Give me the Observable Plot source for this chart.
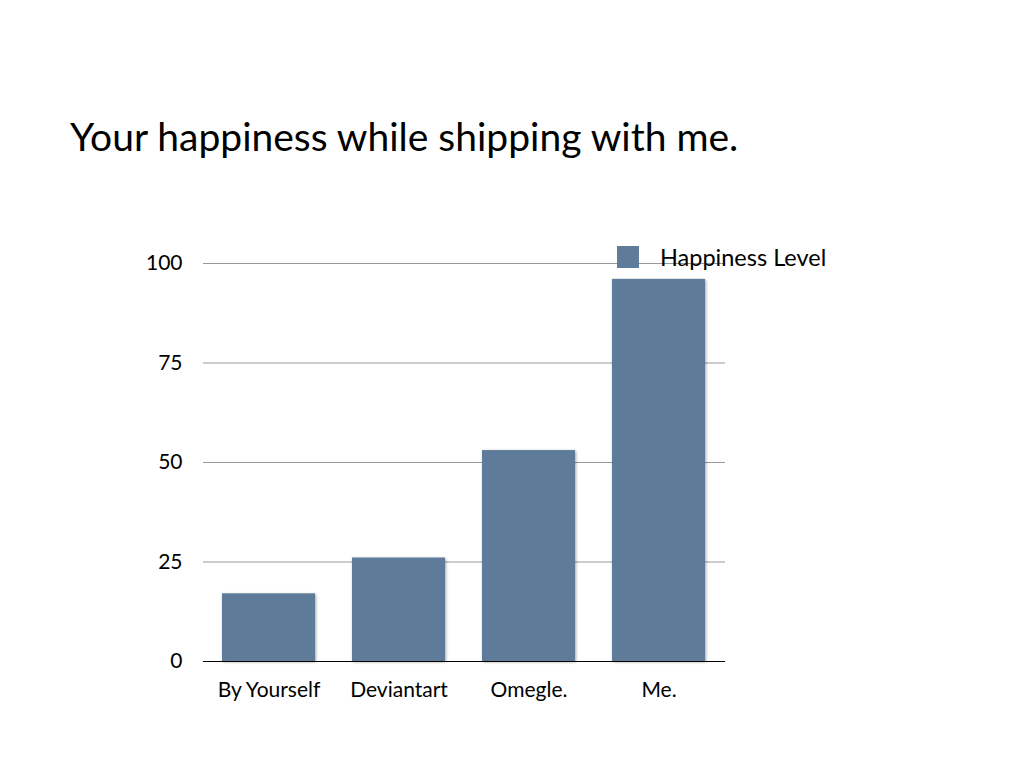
<!DOCTYPE html>
<html>
<head>
<meta charset="utf-8">
<script src="https://cdn.jsdelivr.net/npm/d3@7"></script>
<script src="https://cdn.jsdelivr.net/npm/@observablehq/plot@0.6"></script>
<style>
  html, body { margin: 0; padding: 0; background: #fff; width: 1017px; height: 761px; overflow: hidden; }
  body { position: relative; font-family: Lato, "Open Sans", sans-serif; }
  #title { position: absolute; left: 70px; top: 113px; font-size: 39px; color: #000; white-space: nowrap; letter-spacing: 0px; }
  #legend { position: absolute; left: 617px; top: 243px; font-size: 23.5px; color: #000; display: flex; align-items: center; white-space: nowrap; }
  #legend .sw { width: 22px; height: 22px; background: #5e7c9a; margin-right: 21px; }
  #chart { position: absolute; left: 0; top: 200px; }
</style>
</head>
<body>
<div id="title">Your happiness while shipping with me.</div>
<div id="chart"></div>
<div id="legend"><span class="sw"></span><span>Happiness Level</span></div>
<script>
const categories = ["By Yourself", "Deviantart", "Omegle.", "Me."];
const happiness = [17, 26, 53, 96];
const yTicks = [0, 25, 50, 75, 100];
const seriesName = "Happiness Level";

const data = categories.map((c, i) => ({category: c, value: happiness[i]}));

const chart = Plot.plot({
  width: 1017,
  height: 520,
  marginLeft: 203,
  marginRight: 292,
  marginTop: 63,
  marginBottom: 59,
  style: {fontFamily: "Lato, 'Open Sans', sans-serif", fontSize: "21px", color: "#000", background: "transparent"},
  x: {domain: categories, paddingInner: 0.281, paddingOuter: 0.138, label: null, tickSize: 0, tickPadding: 21},
  y: {domain: [0, 100], ticks: yTicks, label: null, tickSize: 0, tickPadding: 21},
  marks: [
    Plot.gridY(yTicks.filter(d => d > 0), {stroke: "#999", strokeOpacity: 1, strokeWidth: 1}),
    Plot.barY(data, {x: "category", y: "value", fill: "#5e7c9a",
      render: (index, scales, values, dims, context, next) => {
        const g = next(index, scales, values, dims, context);
        d3.select(g).attr("style", "filter: drop-shadow(1px 1px 1.5px rgba(0,0,0,0.35))");
        return g;
      }}),
    Plot.ruleY([0], {stroke: "#000", strokeWidth: 1.2}),
    Plot.axisY({ticks: yTicks, tickSize: 0, tickPadding: 21, fontSize: 21}),
    Plot.axisX({tickSize: 0, tickPadding: 21, fontSize: 21})
  ]
});
document.getElementById("chart").appendChild(chart);
</script>
</body>
</html>
